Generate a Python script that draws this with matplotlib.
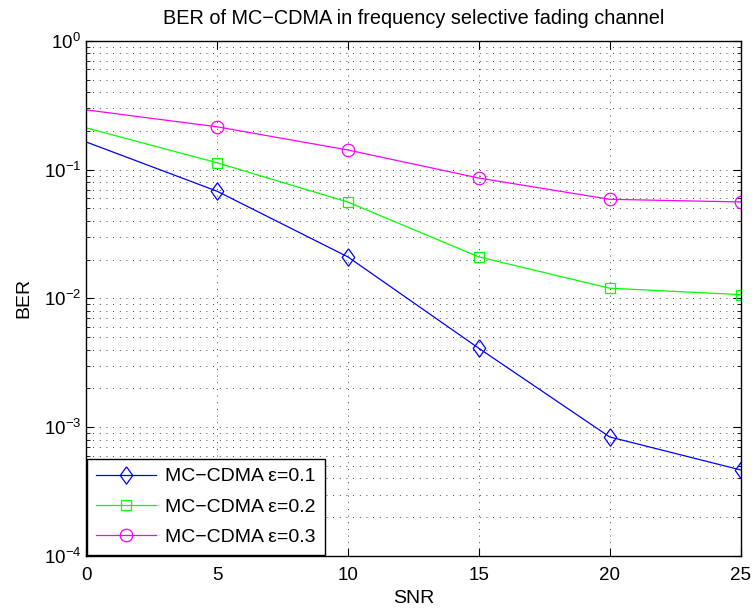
import matplotlib
matplotlib.use("Agg")
import matplotlib.pyplot as plt
from matplotlib.ticker import LogLocator, FixedLocator, NullFormatter

plt.rcParams['font.family'] = ['Liberation Sans', 'DejaVu Sans']
plt.rcParams['mathtext.fontset'] = 'custom'
plt.rcParams['mathtext.rm'] = 'Liberation Sans'
plt.rcParams['mathtext.it'] = 'Liberation Sans:italic'

snr = [0, 5, 10, 15, 20, 25]
ber_01 = [0.164, 0.068, 0.021, 0.0041, 0.00084, 0.000466]
ber_02 = [0.211, 0.113, 0.056, 0.021, 0.012, 0.0107]
ber_03 = [0.291, 0.215, 0.142, 0.086, 0.0588, 0.0561]
labels = ['MC\u2212CDMA \u03b5=0.1', 'MC\u2212CDMA \u03b5=0.2', 'MC\u2212CDMA \u03b5=0.3']
xticks = [0, 5, 10, 15, 20, 25]

diamond = [(0, 1), (0.72, 0), (0, -1), (-0.72, 0), (0, 1)]

fig = plt.figure(figsize=(7.55, 6.09), dpi=100)
ax = fig.add_axes([0.114, 0.087, 0.867, 0.846])

mk = list(range(1, len(snr)))
ax.semilogy(snr, ber_01, color=(0, 0, 1), lw=0.9, marker=diamond, markersize=12.5,
            markerfacecolor='none', markeredgewidth=0.9, markevery=mk, label=labels[0])
ax.semilogy(snr, ber_02, color=(0, 1, 0), lw=0.9, marker='s', markersize=7.5,
            markerfacecolor='none', markeredgewidth=0.9, markevery=mk, label=labels[1])
ax.semilogy(snr, ber_03, color=(1, 0, 1), lw=0.9, marker='o', markersize=9,
            markerfacecolor='none', markeredgewidth=0.9, markevery=mk, label=labels[2])

ax.set_xlim(0, 25)
ax.set_ylim(1e-4, 1)
ax.xaxis.set_major_locator(FixedLocator(xticks))
ax.yaxis.set_major_locator(LogLocator(base=10, numticks=10))
ax.yaxis.set_minor_locator(LogLocator(base=10, subs=range(2, 10), numticks=20))
ax.yaxis.set_minor_formatter(NullFormatter())

ax.grid(True, which='major', axis='both', linestyle=(0, (1, 7)), color='black', lw=0.6)
ax.grid(True, which='minor', axis='y', linestyle=(0, (1, 7)), color='black', lw=0.6)

ax.tick_params(which='both', direction='in', top=True, right=True, labelsize=13.5)
ax.tick_params(axis='x', pad=8)
ax.tick_params(which='major', length=6)
ax.tick_params(which='minor', length=3)
for s in ax.spines.values():
    s.set_linewidth(1.0)

ax.set_title('BER of MC\u2212CDMA in frequency selective fading channel', fontsize=14.3, pad=12)
ax.set_xlabel('SNR', fontsize=14, labelpad=4)
ax.set_ylabel('BER', fontsize=14, labelpad=8)

leg = ax.legend(loc='lower left', borderaxespad=0.05, fontsize=14, fancybox=False,
                framealpha=1, edgecolor='black', handlelength=3.1, borderpad=0.47,
                labelspacing=0.65, handletextpad=0.45)
leg.get_frame().set_linewidth(1.0)

fig.savefig('out.png', dpi=100)
